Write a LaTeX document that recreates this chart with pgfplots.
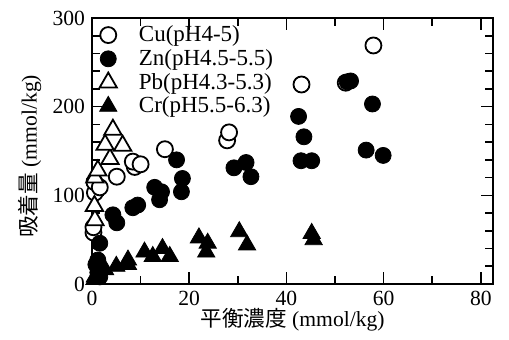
\documentclass[border=0pt]{standalone}
\usepackage{fontspec}
\setmainfont{Liberation Serif}
\newfontfamily\cjk{Noto Sans CJK JP}
\usepackage{pgfplots}
\pgfplotsset{compat=1.18}
\begin{document}
\begin{tikzpicture}
\useasboundingbox (-46pt,-28pt) rectangle (208.5pt,142pt);
\begin{axis}[
  at={(0pt,0pt)}, anchor=south west,
  scale only axis, width=200.5pt, height=133pt,
  xmin=0, xmax=82.5, ymin=0, ymax=300,
  xtick={0,20,40,60,80}, ytick={0,100,200,300},
  minor x tick num=1, minor y tick num=4,
  tick align=inside, major tick length=6pt, minor tick length=4pt,
  axis line style={line width=1pt},
  tick style={line width=0.8pt, black},
  /pgf/number format/assume math mode=true,
  tick label style={font=\fontsize{10.8}{12}\selectfont},
  every axis y label/.style={at={(axis description cs:-0.155,0.48)}, rotate=90, anchor=center},
  every axis x label/.style={at={(axis description cs:0.5,-0.133)}, anchor=center},
  ylabel={\fontsize{10.8}{12}\selectfont{\cjk 吸着量} (mmol/kg)},
  xlabel={\fontsize{10.8}{12}\selectfont{\cjk 平衡濃度} (mmol/kg)},
  clip=false,
  legend style={at={(axis description cs:0.008,1.003)}, anchor=north west, draw=none, fill=none,
    font=\fontsize{11.5}{12}\selectfont, row sep=-1.6pt, column sep=9pt, inner sep=2pt},
  legend cell align=left,
]
\addplot[only marks, mark=*, mark size=4pt, mark options={fill=white, draw=black, line width=0.9pt}] coordinates {
(0.3,58)(0.3,64)(0.6,103)(0.5,115)(1.6,109)(5.1,121)(8.8,132)(8.4,138)(10,135)(15,152)(27.8,162)(28.2,171)(43.1,225)(52.2,227)(57.9,269)
};
\addlegendentry{Cu(pH4-5)}
\addplot[only marks, mark=*, mark size=4pt, mark options={fill=black, draw=black}] coordinates {
(1.6,8)(1.2,13)(0.8,22)(1.2,27)(1.6,46)(5.1,69)(4.3,78)(8.4,86)(9.4,89)(13.9,95)(14.3,104)(12.9,109)(18.4,104)(18.6,119)(17.4,140)(29.2,131)(31.7,137)(32.7,121)(43,139)(45.2,139)(43.6,166)(42.5,189)(52.5,228)(53.2,229)(57.7,203)(56.4,151)(59.9,145)
};
\addlegendentry{Zn(pH4.5-5.5)}
\addplot[only marks, mark=triangle*, mark size=5pt, mark options={fill=white, draw=black, line width=0.9pt}] coordinates {
(0.6,72)(0.5,88)(0.6,120)(1.2,128)(3.7,141)(2.7,157)(6.3,156)(4.3,174)
};
\addlegendentry{Pb(pH4.3-5.3)}
\addplot[only marks, mark=triangle*, mark size=5pt, mark options={fill=black, draw=black}] coordinates {
(0.5,5)(0.6,8)(2.7,16)(5,20)(7.4,22)(7.4,27)(10.8,36)(12.5,31)(14.5,40)(16,31)(22,52)(23.8,46)(23.5,36)(30.3,59)(31.9,44)(45.2,57)(45.6,50)
};
\addlegendentry{Cr(pH5.5-6.3)}
\end{axis}
\end{tikzpicture}
\end{document}
